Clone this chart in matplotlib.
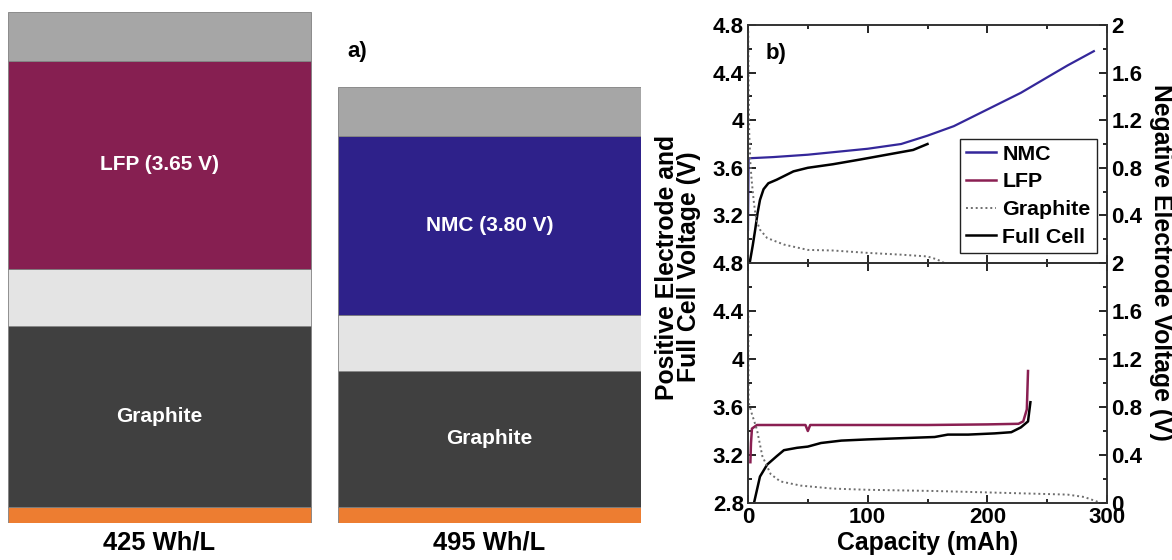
import numpy as np
import matplotlib.pyplot as plt
from matplotlib.lines import Line2D
from matplotlib.ticker import MultipleLocator, FormatStrFormatter

plt.rcParams['font.family'] = ['Liberation Sans', 'DejaVu Sans']
plt.rcParams['font.weight'] = 'bold'

# -----------------------------------------------------------------------
# Panel a) cell stack (layer thicknesses, bottom to top, relative units)
# -----------------------------------------------------------------------
stack_names = ["425 Wh/L", "495 Wh/L"]
layer_names = ["Cu foil", "Graphite", "Separator", "Cathode", "Al foil"]
lfp_stack = [16, 181, 57, 208, 49]
nmc_stack = [16, 136, 56, 179, 49]
cathode_labels = ["LFP (3.65 V)", "NMC (3.80 V)"]

# -----------------------------------------------------------------------
# Panel b) voltage curves, top = NMC cell, bottom = LFP cell
# -----------------------------------------------------------------------
nmc_cap = [0.0, 0.5, 21, 50, 100, 128, 150, 172, 200, 228, 250, 267, 289]
nmc_v = [3.08, 3.68, 3.69, 3.71, 3.76, 3.80, 3.87, 3.95, 4.09, 4.23, 4.36, 4.46, 4.58]

full_nmc_cap = [1.4, 4, 6, 8, 10, 13, 17, 24, 38, 50, 71, 94, 116, 138, 150]
full_nmc_v = [2.8, 2.95, 3.08, 3.22, 3.33, 3.42, 3.47, 3.50, 3.57, 3.60, 3.63, 3.67, 3.71,
              3.75, 3.80]

gr_top_cap = [0.2, 0.5, 1, 2, 3, 5, 7, 10, 16, 30, 50, 71, 100, 128, 150, 158, 164]
gr_top_v = [1.95, 1.50, 1.10, 0.84, 0.70, 0.50, 0.36, 0.28, 0.21, 0.155, 0.11, 0.105,
            0.085, 0.07, 0.055, 0.03, 0.0]

lfp_cap = [2, 2.5, 3.3, 7.5, 13, 48, 50, 52, 100, 150, 200, 226, 230, 233, 234]
lfp_v = [3.14, 3.30, 3.42, 3.45, 3.45, 3.45, 3.40, 3.45, 3.45, 3.45, 3.455, 3.46, 3.48, 3.58, 3.90]

full_lfp_cap = [5, 10, 16, 24, 30, 41, 50, 61, 78, 100, 128, 156, 167, 184, 206, 220, 228, 234, 236]
full_lfp_v = [2.8, 3.02, 3.12, 3.19, 3.24, 3.26, 3.27, 3.30, 3.32, 3.33, 3.34, 3.35, 3.37,
              3.37, 3.38, 3.39, 3.43, 3.48, 3.64]

gr_bot_cap = [0.2, 0.5, 3, 7.5, 12, 19, 27, 44, 71, 100, 156, 212, 267, 281, 295]
gr_bot_v = [1.6, 0.84, 0.75, 0.61, 0.39, 0.24, 0.18, 0.145, 0.12, 0.11, 0.10, 0.085, 0.07, 0.05, 0.0]

C_NMC = "#34279a"
C_LFP = "#8a1f52"
C_GR = "#6e6e6e"
W, H = 1172, 560
TICK_FS = 16
LABEL_FS = 17.8

fig = plt.figure(figsize=(W / 100, H / 100), dpi=100)

# --- panel a ---
axa = fig.add_axes([8 / W, 37 / H, 633 / W, 511 / H])
layer_colors = [
    ["#ed7d31", "#404040", "#e4e4e4", "#861f51", "#a6a6a6"],
    ["#ed7d31", "#404040", "#e4e4e4", "#2e218a", "#a6a6a6"],
]
for i, stack in enumerate([lfp_stack, nmc_stack]):
    bottom = 0
    for j, h in enumerate(stack):
        axa.bar(i, h, bottom=bottom, width=0.918, color=layer_colors[i][j],
                edgecolor="#808080", linewidth=0.6)
        if j == 1:
            axa.text(i, bottom + h / 2, "Graphite", color="white", ha="center",
                     va="center", fontsize=15, fontweight="bold")
        if j == 3:
            axa.text(i, bottom + h / 2, cathode_labels[i], color="white", ha="center",
                     va="center", fontsize=15, fontweight="bold")
        bottom += h
    axa.text(i, -20, stack_names[i], ha="center", va="center", fontsize=18.4,
             fontweight="bold")
axa.text(0.57, 471, "a)", ha="left", va="center", fontsize=16, fontweight="bold")
axa.set_xlim(-0.459, 1.459)
axa.set_ylim(0, 511)
axa.axis("off")

# --- panel b ---
left, right = 748 / W, 1107 / W
ax_top = fig.add_axes([left, 297 / H, right - left, 238 / H])
ax_bot = fig.add_axes([left, 57 / H, right - left, 240 / H])
tw_top = ax_top.twinx()
tw_bot = ax_bot.twinx()

ax_top.plot(nmc_cap, nmc_v, color=C_NMC, lw=1.6)
ax_top.plot(full_nmc_cap, full_nmc_v, color="black", lw=1.8)
tw_top.plot(gr_top_cap, gr_top_v, color=C_GR, lw=1.4, ls=(0, (1, 1.5)))

ax_bot.plot(lfp_cap, lfp_v, color=C_LFP, lw=1.8)
ax_bot.plot(full_lfp_cap, full_lfp_v, color="black", lw=1.8)
tw_bot.plot(gr_bot_cap, gr_bot_v, color=C_GR, lw=1.4, ls=(0, (1, 1.5)))

for ax in (ax_top, ax_bot):
    ax.set_xlim(0, 300)
    ax.set_ylim(2.8, 4.8)
    ax.xaxis.set_major_locator(MultipleLocator(100))
    ax.xaxis.set_minor_locator(MultipleLocator(50))
    ax.yaxis.set_major_locator(MultipleLocator(0.4))
    ax.yaxis.set_minor_locator(MultipleLocator(0.2))
    ax.yaxis.set_major_formatter(FormatStrFormatter("%g"))
    ax.tick_params(which="both", direction="in", top=True, right=False,
                   labelsize=TICK_FS, width=1.2, pad=3)
    ax.tick_params(which="major", length=6)
    ax.tick_params(which="minor", length=3)
    for s in ax.spines.values():
        s.set_linewidth(1.2)
        s.set_color("#333333")

for tw in (tw_top, tw_bot):
    tw.set_ylim(0, 2)
    tw.yaxis.set_major_locator(MultipleLocator(0.4))
    tw.yaxis.set_minor_locator(MultipleLocator(0.2))
    tw.yaxis.set_major_formatter(FormatStrFormatter("%g"))
    tw.tick_params(which="both", direction="in", labelsize=TICK_FS, width=1.2, pad=3)
    tw.tick_params(which="major", length=6)
    tw.tick_params(which="minor", length=3)
    for s in tw.spines.values():
        s.set_linewidth(1.2)
        s.set_color("#333333")

ax_top.tick_params(labelbottom=False)
ax_top.set_yticks([3.2, 3.6, 4.0, 4.4, 4.8])
ax_top.set_yticks(np.arange(2.8, 4.81, 0.2), minor=True)
tw_top.set_yticks([0.4, 0.8, 1.2, 1.6, 2.0])
for ax in (ax_top, ax_bot, tw_top, tw_bot):
    for lab in ax.get_xticklabels() + ax.get_yticklabels():
        lab.set_fontweight("bold")

ax_bot.set_xlabel("Capacity (mAh)", fontsize=LABEL_FS, fontweight="bold", labelpad=2)
ax_top.text(0.048, 0.88, "b)", transform=ax_top.transAxes, fontsize=16,
            fontweight="bold", va="center")

fig.text(678 / W, 0.523, "Positive Electrode and\nFull Cell Voltage (V)", rotation=90,
         ha="center", va="center", fontsize=LABEL_FS, fontweight="bold", linespacing=0.9)
fig.text(1161 / W, 0.532, "Negative Electrode Voltage (V)", rotation=270,
         ha="center", va="center", fontsize=LABEL_FS, fontweight="bold")

handles = [
    Line2D([], [], color=C_NMC, lw=1.8),
    Line2D([], [], color=C_LFP, lw=1.8),
    Line2D([], [], color=C_GR, lw=1.4, ls=(0, (1, 1.5))),
    Line2D([], [], color="black", lw=1.8),
]
leg = tw_top.legend(handles, ["NMC", "LFP", "Graphite", "Full Cell"],
                    loc="lower right", bbox_to_anchor=(0.972, 0.042),
                    prop={"size": 15.4, "weight": "bold"}, fancybox=False,
                    framealpha=1, edgecolor="#222222", handlelength=1.4,
                    handletextpad=0.3, borderpad=0.3, labelspacing=0.4,
                    borderaxespad=0)
leg.get_frame().set_linewidth(1.0)

fig.savefig("out.png", dpi=100)
